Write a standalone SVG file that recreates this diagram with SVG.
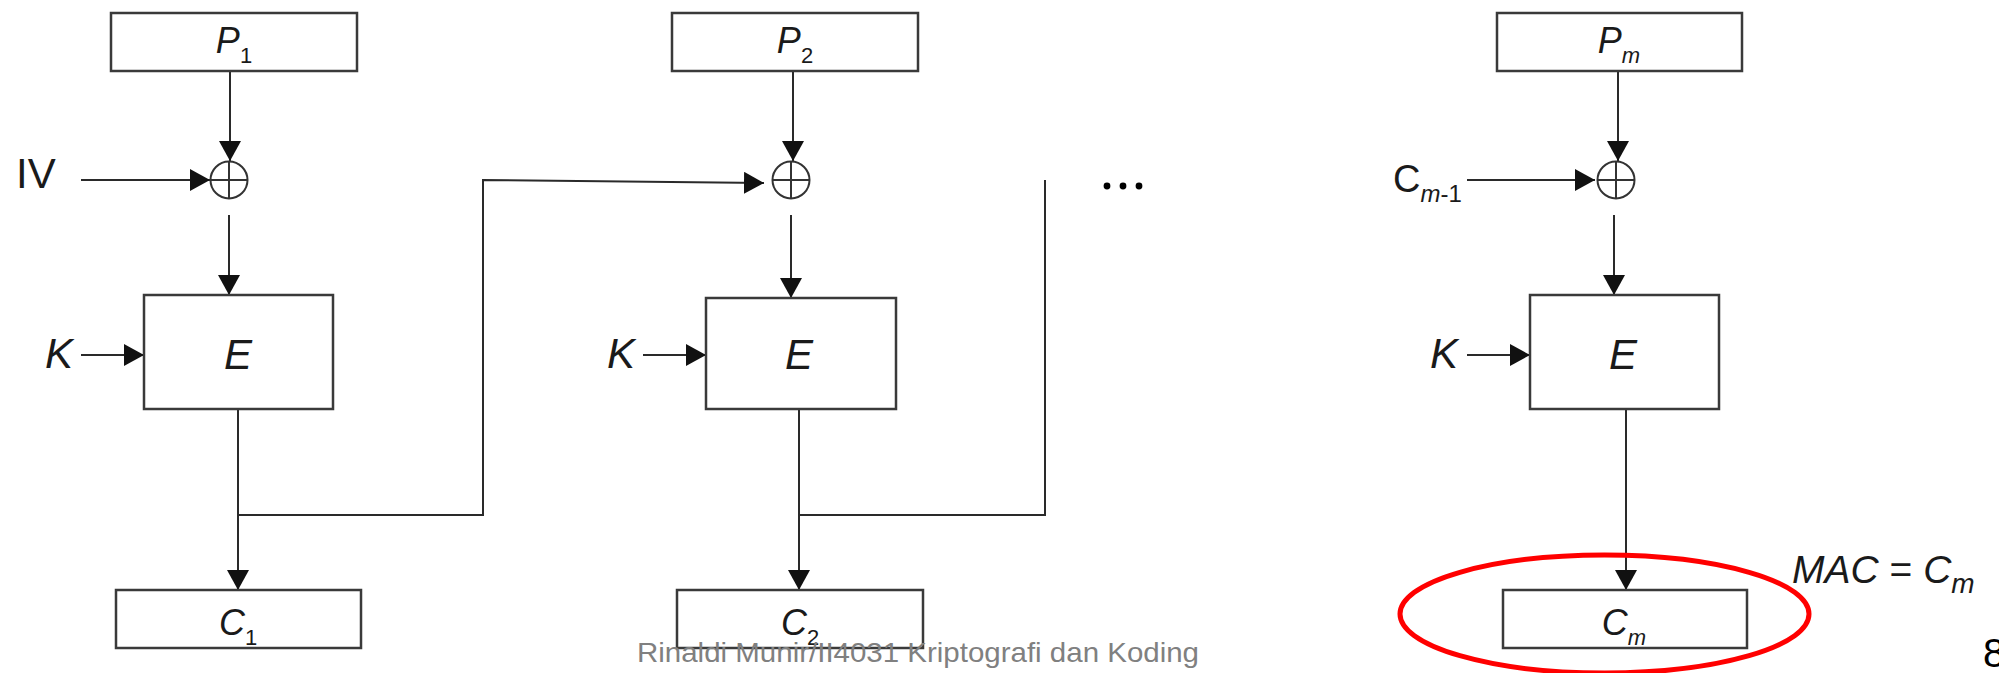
<svg xmlns="http://www.w3.org/2000/svg" width="1999" height="673" viewBox="0 0 1999 673">
<style>
.box{fill:#fff;stroke:#3a3a3a;stroke-width:2.5}
.ln{fill:none;stroke:#2a2a2a;stroke-width:2}
.arr{fill:none;stroke:#2a2a2a;stroke-width:2;marker-end:url(#ah)}
.xor{fill:none;stroke:#333;stroke-width:2}
.t{font-family:"Liberation Sans",Arial,sans-serif;fill:#1a1a1a}
.it{font-style:italic}
.lbl{font-size:36px;text-anchor:middle}
.sub{font-size:22px}
.big{font-size:42px}
</style>
<defs>
<marker id="ah" markerUnits="userSpaceOnUse" markerWidth="20" markerHeight="22" refX="20" refY="11" orient="auto">
<path d="M0,0 L20,11 L0,22 z" fill="#111"/>
</marker>
<g id="xorsym"><circle cx="0" cy="0" r="18.5" class="xor"/><line x1="-18.5" y1="0" x2="18.5" y2="0" class="xor"/><line x1="0" y1="-18.5" x2="0" y2="18.5" class="xor"/></g>
</defs>
<rect width="1999" height="673" fill="#fff"/>

<g id="connectors">
<line class="arr" x1="230" y1="71" x2="230" y2="161"/>
<line class="arr" x1="81" y1="180" x2="210" y2="180"/>
<line class="arr" x1="229" y1="215" x2="229" y2="295"/>
<line class="arr" x1="81" y1="355" x2="144" y2="355"/>
<line class="arr" x1="238" y1="409" x2="238" y2="590"/>
<polyline class="arr" points="238,515 483,515 483,180 764,183"/>

<line class="arr" x1="793" y1="71" x2="793" y2="161"/>
<line class="arr" x1="791" y1="215" x2="791" y2="298"/>
<line class="arr" x1="643" y1="355" x2="706" y2="355"/>
<line class="arr" x1="799" y1="409" x2="799" y2="590"/>
<polyline class="ln" points="799,515 1045,515 1045,180"/>

<line class="arr" x1="1618" y1="71" x2="1618" y2="161"/>
<line class="arr" x1="1467" y1="180" x2="1595" y2="180"/>
<line class="arr" x1="1614" y1="215" x2="1614" y2="295"/>
<line class="arr" x1="1467" y1="355" x2="1530" y2="355"/>
<line class="arr" x1="1626" y1="409" x2="1626" y2="590"/>
</g>

<g id="col1">
<g id="P1"><rect class="box" x="111" y="13" width="246" height="58"/><text class="t lbl" x="234" y="53"><tspan class="it">P</tspan><tspan class="sub" dy="10">1</tspan></text></g>
<g id="xor1"><use href="#xorsym" x="229" y="180"/></g>
<g id="IV"><text class="t big" x="16" y="188">IV</text></g>
<g id="K1"><text class="t big it" x="45" y="368">K</text></g>
<g id="E1"><rect class="box" x="144" y="295" width="189" height="114"/><text class="t it" x="238" y="369" font-size="42" text-anchor="middle">E</text></g>
<g id="C1"><rect class="box" x="116" y="590" width="245" height="58"/><text class="t lbl" x="238" y="635"><tspan class="it">C</tspan><tspan class="sub" dy="10">1</tspan></text></g>
</g>

<g id="col2">
<g id="P2"><rect class="box" x="672" y="13" width="246" height="58"/><text class="t lbl" x="795" y="53"><tspan class="it">P</tspan><tspan class="sub" dy="10">2</tspan></text></g>
<g id="xor2"><use href="#xorsym" x="791" y="180"/></g>
<g id="K2"><text class="t big it" x="607" y="368">K</text></g>
<g id="E2"><rect class="box" x="706" y="298" width="190" height="111"/><text class="t it" x="799" y="369" font-size="42" text-anchor="middle">E</text></g>
<g id="C2"><rect class="box" x="677" y="590" width="246" height="58"/><text class="t lbl" x="800" y="635"><tspan class="it">C</tspan><tspan class="sub" dy="10">2</tspan></text></g>
</g>

<g id="dots" fill="#000"><circle cx="1107" cy="186" r="3.4"/><circle cx="1123" cy="186" r="3.4"/><circle cx="1139" cy="186" r="3.4"/></g>

<g id="colm">
<g id="Pm"><rect class="box" x="1497" y="13" width="245" height="58"/><text class="t lbl" x="1619" y="53"><tspan class="it">P</tspan><tspan class="sub it" dy="10">m</tspan></text></g>
<g id="xorm"><use href="#xorsym" x="1616" y="180"/></g>
<g id="Cm1"><text class="t" x="1393" y="192" font-size="38">C<tspan class="it" font-size="24" dy="10">m</tspan><tspan font-size="24">-1</tspan></text></g>
<g id="Km"><text class="t big it" x="1430" y="368">K</text></g>
<g id="Em"><rect class="box" x="1530" y="295" width="189" height="114"/><text class="t it" x="1623" y="369" font-size="42" text-anchor="middle">E</text></g>
<g id="Cm"><rect class="box" x="1503" y="590" width="244" height="58"/><text class="t lbl" x="1624" y="635"><tspan class="it">C</tspan><tspan class="sub it" dy="10">m</tspan></text></g>
</g>

<g id="highlight"><ellipse cx="1604.5" cy="614" rx="204.5" ry="59" fill="none" stroke="#ff0000" stroke-width="5"/></g>
<g id="mac"><text class="t" x="1792" y="583" font-size="39" fill="#000"><tspan class="it">MAC</tspan> = <tspan class="it">C</tspan><tspan class="it" font-size="28" dy="10">m</tspan></text></g>
<g id="footer"><text x="637" y="662" font-family="'Liberation Sans',Arial,sans-serif" font-size="28" fill="#808080" textLength="562" lengthAdjust="spacingAndGlyphs">Rinaldi Munir/II4031 Kriptografi dan Koding</text></g>
<g id="pagenum"><text x="1983" y="667" font-family="'Liberation Sans',Arial,sans-serif" font-size="40" fill="#000">8</text></g>
</svg>
